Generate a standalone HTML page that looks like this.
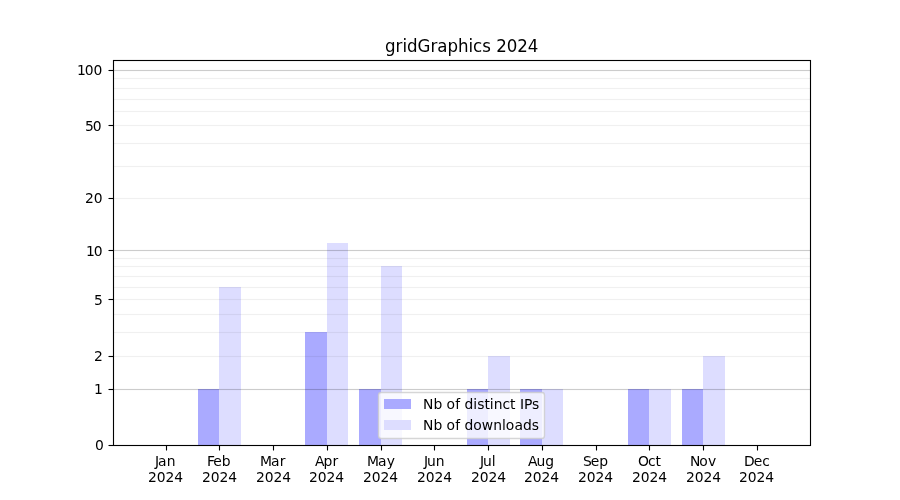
<!DOCTYPE html>
<html lang="en">
<head>
<meta charset="utf-8">
<title>gridGraphics 2024</title>
<style>
html,body{margin:0;padding:0;background:#fff;}
body{width:900px;height:500px;overflow:hidden;}
svg{display:block;}
text{font-family:"DejaVu Sans","Liberation Sans",sans-serif;font-size:13.8889px;fill:#000;white-space:pre;}
.t{font-size:16.6667px;}
.sp{fill:none;stroke:#000;stroke-width:1.1111;}
.tk{stroke:#000;stroke-width:1.1111;}
.gM{fill:#000;fill-opacity:0.2;}
.gm{fill:#000;fill-opacity:0.06;}
.b1{fill:#aaf;}
.b2{fill:#ddf;}
</style>
</head>
<body>
<svg width="900" height="500" viewBox="0 0 900 500">
<rect width="900" height="500" fill="#fff"/>
<g>
<rect class="b1" x="198" y="389" width="21" height="56"/>
<rect class="b2" x="219" y="287" width="22" height="158"/>
<rect class="b1" x="305" y="332" width="22" height="113"/>
<rect class="b2" x="327" y="243" width="21" height="202"/>
<rect class="b1" x="359" y="389" width="22" height="56"/>
<rect class="b2" x="381" y="266" width="21" height="179"/>
<rect class="b1" x="467" y="389" width="21" height="56"/>
<rect class="b2" x="488" y="356" width="22" height="89"/>
<rect class="b1" x="520" y="389" width="22" height="56"/>
<rect class="b2" x="542" y="389" width="21" height="56"/>
<rect class="b1" x="628" y="389" width="21" height="56"/>
<rect class="b2" x="649" y="389" width="22" height="56"/>
<rect class="b1" x="682" y="389" width="21" height="56"/>
<rect class="b2" x="703" y="356" width="22" height="89"/>
</g>
<g>
<rect class="gM" x="113" width="697.5" y="388.93" height="1.14"/>
<rect class="gM" x="113" width="697.5" y="249.93" height="1.14"/>
<rect class="gM" x="113" width="697.5" y="69.93" height="1.14"/>
<rect class="gm" x="113" width="697.5" y="355.93" height="1.14"/>
<rect class="gm" x="113" width="697.5" y="331.93" height="1.14"/>
<rect class="gm" x="113" width="697.5" y="313.93" height="1.14"/>
<rect class="gm" x="113" width="697.5" y="298.93" height="1.14"/>
<rect class="gm" x="113" width="697.5" y="286.93" height="1.14"/>
<rect class="gm" x="113" width="697.5" y="275.93" height="1.14"/>
<rect class="gm" x="113" width="697.5" y="265.93" height="1.14"/>
<rect class="gm" x="113" width="697.5" y="257.93" height="1.14"/>
<rect class="gm" x="113" width="697.5" y="197.93" height="1.14"/>
<rect class="gm" x="113" width="697.5" y="165.93" height="1.14"/>
<rect class="gm" x="113" width="697.5" y="142.93" height="1.14"/>
<rect class="gm" x="113" width="697.5" y="124.93" height="1.14"/>
<rect class="gm" x="113" width="697.5" y="110.93" height="1.14"/>
<rect class="gm" x="113" width="697.5" y="98.93" height="1.14"/>
<rect class="gm" x="113" width="697.5" y="87.93" height="1.14"/>
<rect class="gm" x="113" width="697.5" y="77.93" height="1.14"/>
</g>
<g>
<line class="tk" x1="166.5" x2="166.5" y1="445.5" y2="450.5"/>
<line class="tk" x1="219.5" x2="219.5" y1="445.5" y2="450.5"/>
<line class="tk" x1="273.5" x2="273.5" y1="445.5" y2="450.5"/>
<line class="tk" x1="327.5" x2="327.5" y1="445.5" y2="450.5"/>
<line class="tk" x1="381.5" x2="381.5" y1="445.5" y2="450.5"/>
<line class="tk" x1="434.5" x2="434.5" y1="445.5" y2="450.5"/>
<line class="tk" x1="488.5" x2="488.5" y1="445.5" y2="450.5"/>
<line class="tk" x1="542.5" x2="542.5" y1="445.5" y2="450.5"/>
<line class="tk" x1="596.5" x2="596.5" y1="445.5" y2="450.5"/>
<line class="tk" x1="649.5" x2="649.5" y1="445.5" y2="450.5"/>
<line class="tk" x1="703.5" x2="703.5" y1="445.5" y2="450.5"/>
<line class="tk" x1="757.5" x2="757.5" y1="445.5" y2="450.5"/>
<line class="tk" x1="108.5" x2="113.5" y1="445.5" y2="445.5"/>
<line class="tk" x1="108.5" x2="113.5" y1="389.5" y2="389.5"/>
<line class="tk" x1="108.5" x2="113.5" y1="356.5" y2="356.5"/>
<line class="tk" x1="108.5" x2="113.5" y1="299.5" y2="299.5"/>
<line class="tk" x1="108.5" x2="113.5" y1="250.5" y2="250.5"/>
<line class="tk" x1="108.5" x2="113.5" y1="198.5" y2="198.5"/>
<line class="tk" x1="108.5" x2="113.5" y1="125.5" y2="125.5"/>
<line class="tk" x1="108.5" x2="113.5" y1="70.5" y2="70.5"/>
</g>
<rect class="sp" x="113.5" y="60.5" width="697" height="385"/>
<g>
<text x="154.887 157.887 166.762" y="466">Jan</text>
<text x="147.949 156.699 165.449 174.199" y="482">2024</text>
<text x="206.998 213.373 221.873" y="466">Feb</text>
<text x="201.936 210.686 219.436 228.186" y="482">2024</text>
<text x="259.985 270.985 279.86" y="466">Mar</text>
<text x="256.047 264.797 273.547 282.297" y="482">2024</text>
<text x="314.971 323.471 332.596" y="466">Apr</text>
<text x="309.034 317.784 326.534 335.284" y="482">2024</text>
<text x="366.958 378.083 386.833" y="466">May</text>
<text x="363.02 371.77 380.52 389.27" y="482">2024</text>
<text x="423.882 426.882 435.632" y="466">Jun</text>
<text x="416.882 425.632 434.382 443.132" y="482">2024</text>
<text x="479.931 482.931 491.681" y="466">Jul</text>
<text x="470.993 479.743 488.493 497.243" y="482">2024</text>
<text x="527.917 536.542 545.292" y="466">Aug</text>
<text x="523.98 532.73 541.48 550.23" y="482">2024</text>
<text x="582.904 590.779 599.279" y="466">Sep</text>
<text x="577.966 586.716 595.466 604.216" y="482">2024</text>
<text x="637.953 648.015 655.578" y="466">Oct</text>
<text x="631.953 640.703 649.453 658.203" y="482">2024</text>
<text x="689.877 699.127 708.002" y="466">Nov</text>
<text x="685.939 694.689 703.439 712.189" y="482">2024</text>
<text x="743.988 753.863 762.363" y="466">Dec</text>
<text x="738.926 747.676 756.426 765.176" y="482">2024</text>
</g>
<g>
<text x="94.903" y="450">0</text>
<text x="93.903" y="394">1</text>
<text x="93.903" y="361">2</text>
<text x="93.903" y="305">5</text>
<text x="85.903 93.778" y="256">10</text>
<text x="84.903 93.653" y="203">20</text>
<text x="84.903 92.778" y="131">50</text>
<text x="76.903 84.778 93.528" y="75">100</text>
</g>
<text transform="scale(0.90926,1)" x="423.354 434.902 442.601 447.55 459.098 473.395 480.819 492.092 503.64 515.394 520.137 530.31 539.796 545.707 557.255 568.803 580.488" y="52" style="font-size:18.33px">gridGraphics 2024</text>
<g>
<rect x="378.5" y="392.5" width="166" height="46" rx="2.78" ry="2.78" fill="#fff" fill-opacity="0.8" stroke="#ccc" stroke-opacity="0.8" stroke-width="1.3889"/>
<rect class="b1" x="384" y="399" width="27" height="10"/>
<rect class="b2" x="384" y="420" width="27" height="10"/>
<text x="423.12 433.495 442.37 446.62 455.245 460.245 464.62 473.37 477.245 484.495 489.87 493.87 502.495 510.12 515.745 520.12 523.995 532.12" y="409">Nb of distinct IPs</text>
<text x="423.12 433.495 442.37 446.62 455.245 460.245 464.62 473.37 481.87 493.37 502.12 505.87 514.495 522.995 531.87" y="430">Nb of downloads</text>
</g>
</svg>
</body>
</html>
